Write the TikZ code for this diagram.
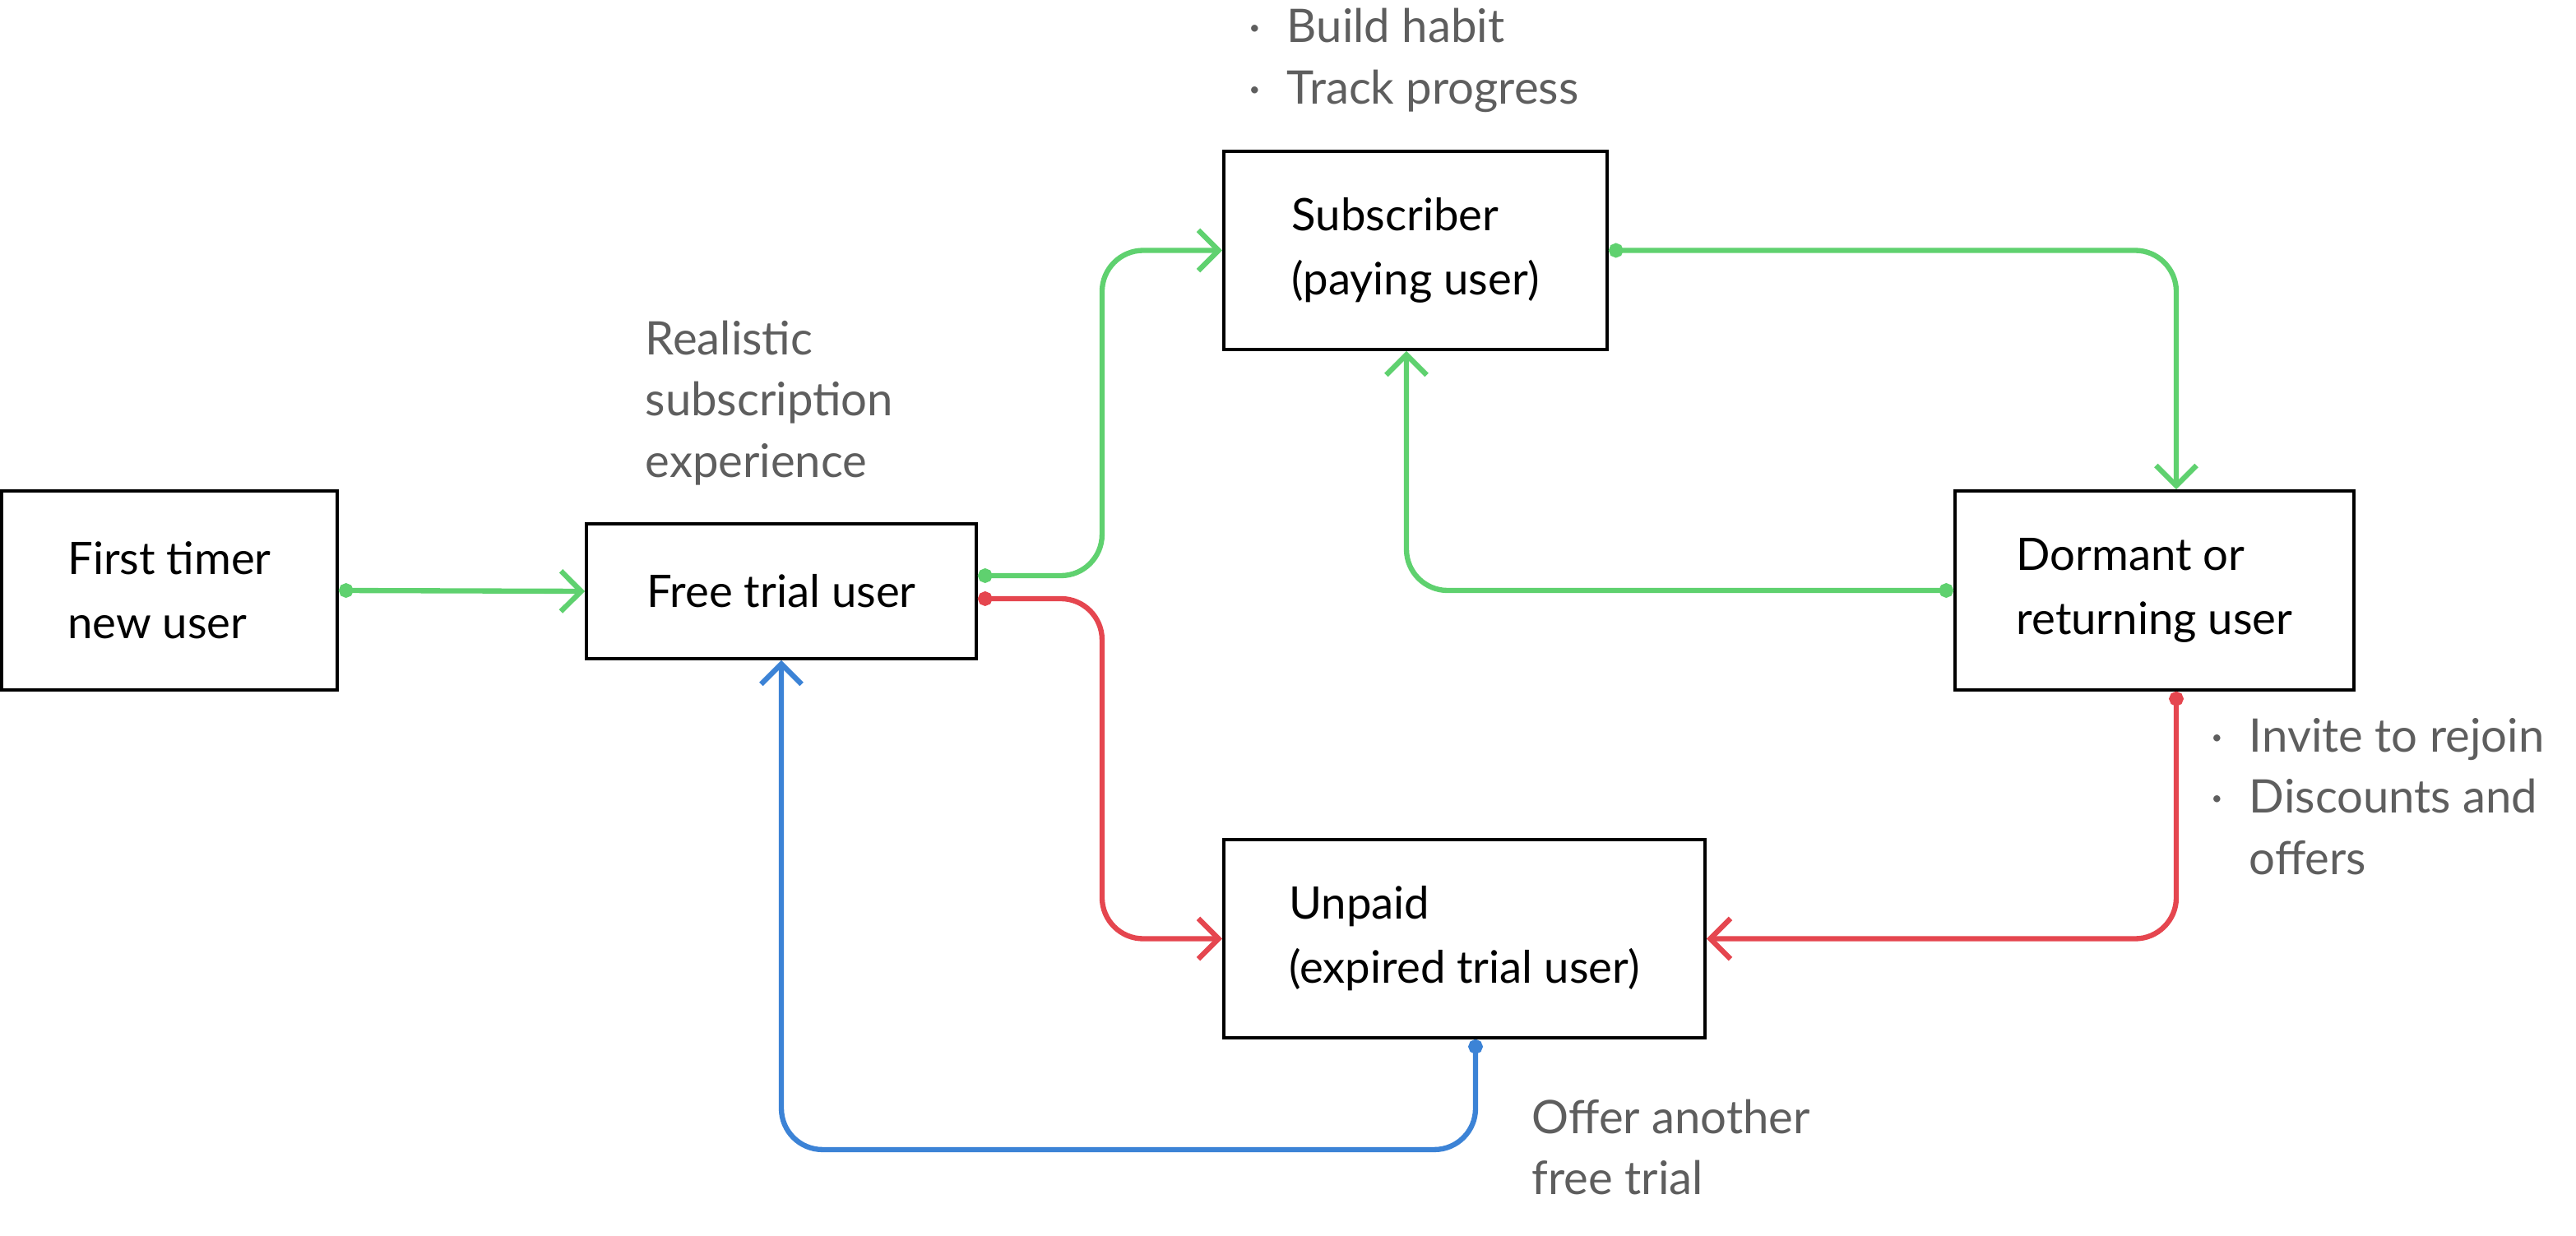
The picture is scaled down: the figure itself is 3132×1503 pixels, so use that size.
\documentclass[tikz,border=0pt]{standalone}
\usepackage{fontspec}
\setmainfont{Lato}
\usetikzlibrary{arrows.meta}
\definecolor{cgreen}{HTML}{5FD16F}
\definecolor{cred}{HTML}{E5464F}
\definecolor{cblue}{HTML}{3C83D6}
\definecolor{cgray}{HTML}{5E5E5E}
\begin{document}
\begin{tikzpicture}[x=0.1mm,y=-0.1mm,
  box/.style={draw=black, line width=1.1pt, align=left, text=black, inner sep=0pt,
    font=\fontsize{15.5}{22.2}\selectfont},
  note/.style={align=left, text=cgray, inner sep=0pt, anchor=west,
    font=\fontsize{16}{21.3}\selectfont},
  conn/.style={line width=1.8pt, rounded corners=5mm,
    {Circle[length=5pt]}-{Straight Barb[length=7pt,width=14pt]}},
  straightconn/.style={line width=1.8pt,
    {Circle[length=5pt]}-{Straight Barb[length=7pt,width=14pt]}}
]
\useasboundingbox (0,0) rectangle (3132,1503);

\node[box, minimum width=40.8mm, minimum height=24.2mm] (first) at (206,718) {First timer\\new user};
\node[box, minimum width=47.4mm, minimum height=16.4mm] (free) at (950,719) {Free trial user};
\node[box, minimum width=46.6mm, minimum height=24.1mm] (sub) at (1721,304.5) {Subscriber\\(paying user)};
\node[box, minimum width=48.5mm, minimum height=24.2mm] (dorm) at (2619.5,718) {Dormant or\\returning user};
\node[box, minimum width=58.5mm, minimum height=24.1mm] (unpaid) at (1780.5,1141.5) {Unpaid\\(expired trial user)};

\node[note] (habit) at (1518,74) {\begin{tabular}{@{}l@{\hspace{9pt}}l@{}}·&Build habit\\·&Track progress\end{tabular}};
\node[note] (real) at (784,490) {Realistic\\subscription\\experience};
\node[note] (invite) at (2688,974) {\begin{tabular}{@{}l@{\hspace{9pt}}l@{}}·&Invite to rejoin\\·&Discounts and\\&offers\end{tabular}};
\node[note] (offer) at (1862,1395) {Offer another\\free trial};

\draw[straightconn, cgreen] (first.east) -- (free.west);
\draw[conn, cgreen] ([yshift=1.9mm]free.east) -- ++(151,0) |- (sub.west);
\draw[conn, cred] ([yshift=-0.9mm]free.east) -- ++(151,0) |- (unpaid.west);
\draw[conn, cgreen] (sub.east) -| ([xshift=2.65mm]dorm.north);
\draw[conn, cgreen] (dorm.west) -| ([xshift=-1.1mm]sub.south);
\draw[conn, cred] ([xshift=2.65mm]dorm.south) |- (unpaid.east);
\draw[conn, cblue] ([xshift=1.35mm]unpaid.south) -- ++(0,134) -| (free.south);
\end{tikzpicture}
\end{document}
